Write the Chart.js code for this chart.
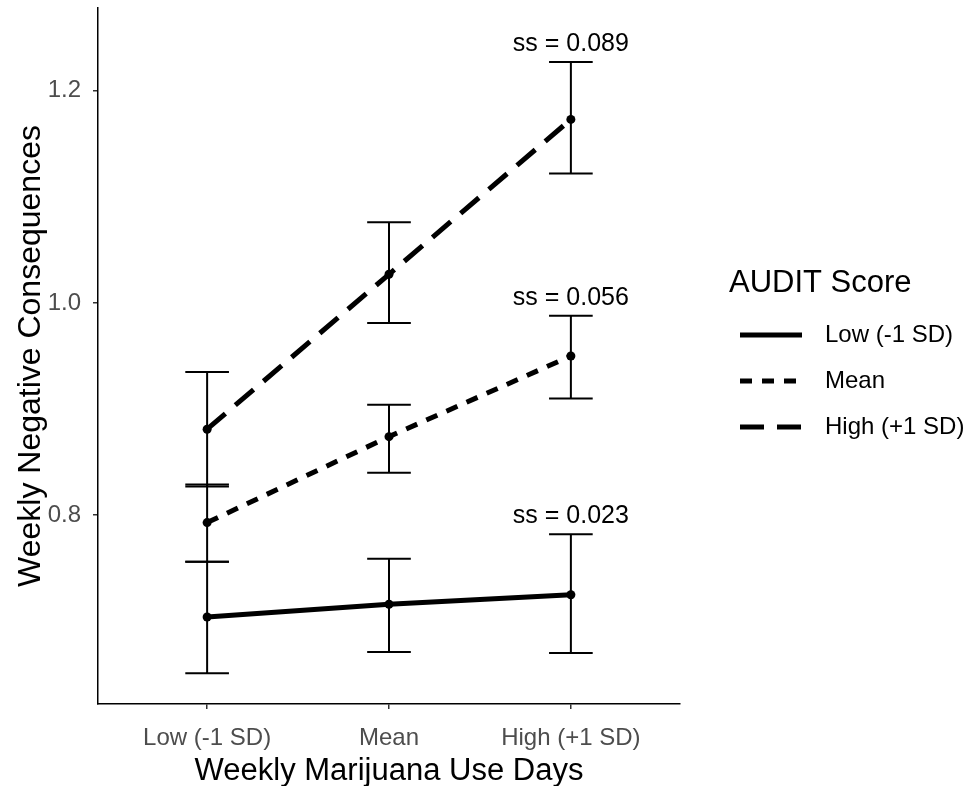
<!DOCTYPE html>
<html>
<head>
<meta charset="utf-8">
<script src="https://cdn.jsdelivr.net/npm/chart.js@4.4.1/dist/chart.umd.min.js"></script>
<style>
  html, body { margin: 0; padding: 0; background: #fff; }
  #wrap { width: 975px; height: 786px; }
</style>
</head>
<body>
<div id="wrap"><canvas id="myChart" width="975" height="786"></canvas></div>
<script>
// data
const categories = ['Low (-1 SD)', 'Mean', 'High (+1 SD)'];
const seriesNames = ['Low (-1 SD)', 'Mean', 'High (+1 SD)'];

const lowMeans = [0.704, 0.716, 0.725];
const lowUpper = [0.756, 0.759, 0.782];
const lowLower = [0.651, 0.671, 0.670];

const meanMeans = [0.793, 0.874, 0.950];
const meanUpper = [0.829, 0.904, 0.988];
const meanLower = [0.756, 0.840, 0.910];

const highMeans = [0.881, 1.027, 1.173];
const highUpper = [0.935, 1.076, 1.227];
const highLower = [0.827, 0.981, 1.122];

const yTicks = [0.8, 1.0, 1.2];
const ssLabels = ['ss = 0.023', 'ss = 0.056', 'ss = 0.089'];

const FONT = "'Liberation Sans', Arial, sans-serif";

function makeSet(label, means, upper, lower, dash) {
  return {
    label: label,
    data: means.map((v, i) => ({ x: i + 1, y: v })),
    upper: upper,
    lower: lower,
    borderColor: '#000',
    backgroundColor: '#000',
    borderWidth: 5,
    borderDash: dash,
    borderCapStyle: 'butt',
    pointRadius: 4.5,
    pointHoverRadius: 4.5,
    pointBackgroundColor: '#000',
    pointBorderWidth: 0,
    tension: 0,
    fill: false
  };
}

// error bars, drawn under the lines
const errorBars = {
  id: 'errorBars',
  beforeDatasetsDraw(chart) {
    const ctx = chart.ctx;
    const xs = chart.scales.x, ys = chart.scales.y;
    ctx.save();
    ctx.strokeStyle = '#000';
    ctx.lineWidth = 2;
    ctx.setLineDash([]);
    chart.data.datasets.forEach(ds => {
      ds.data.forEach((p, i) => {
        const x = xs.getPixelForValue(p.x);
        const x0 = xs.getPixelForValue(p.x - 0.12);
        const x1 = xs.getPixelForValue(p.x + 0.12);
        const yt = ys.getPixelForValue(ds.upper[i]);
        const yb = ys.getPixelForValue(ds.lower[i]);
        ctx.beginPath();
        ctx.moveTo(x, yt); ctx.lineTo(x, yb);
        ctx.moveTo(x0, yt); ctx.lineTo(x1, yt);
        ctx.moveTo(x0, yb); ctx.lineTo(x1, yb);
        ctx.stroke();
      });
    });
    ctx.restore();
  }
};

// "ss = ..." labels above the last error bar of each series
const ssText = {
  id: 'ssText',
  afterDatasetsDraw(chart) {
    const ctx = chart.ctx;
    const xs = chart.scales.x, ys = chart.scales.y;
    ctx.save();
    ctx.fillStyle = '#000';
    ctx.font = '25px ' + FONT;
    ctx.textAlign = 'center';
    ctx.textBaseline = 'middle';
    chart.data.datasets.forEach((ds, k) => {
      const last = ds.data.length - 1;
      const x = xs.getPixelForValue(ds.data[last].x);
      const y = ys.getPixelForValue(ds.upper[last]) - 18;
      ctx.fillText(ssLabels[k], x, y);
    });
    ctx.restore();
  }
};

// legend on the right, ggplot style
const sideLegend = {
  id: 'sideLegend',
  afterDraw(chart) {
    const ctx = chart.ctx;
    ctx.save();
    ctx.fillStyle = '#000';
    ctx.textBaseline = 'middle';
    ctx.textAlign = 'left';
    ctx.font = '31px ' + FONT;
    ctx.fillText('AUDIT Score', 729, 283);
    ctx.font = '24px ' + FONT;
    chart.data.datasets.forEach((ds, k) => {
      const y = 335 + k * 46;
      ctx.strokeStyle = '#000';
      ctx.lineWidth = 5;
      ctx.lineCap = 'butt';
      ctx.setLineDash(ds.borderDash || []);
      ctx.beginPath();
      ctx.moveTo(740, y);
      ctx.lineTo(802, y);
      ctx.stroke();
      ctx.setLineDash([]);
      ctx.fillText(ds.label, 825, y);
    });
    ctx.restore();
  }
};

const ctx = document.getElementById('myChart').getContext('2d');
const myChart = new Chart(ctx, {
  type: 'line',
  data: {
    datasets: [
      makeSet(seriesNames[0], lowMeans, lowUpper, lowLower, []),
      makeSet(seriesNames[1], meanMeans, meanUpper, meanLower, [12, 10]),
      makeSet(seriesNames[2], highMeans, highUpper, highLower, [24, 13])
    ]
  },
  options: {
    responsive: false,
    animation: false,
    layout: { padding: { top: 8, right: 295, bottom: 0, left: 0 } },
    plugins: {
      legend: { display: false },
      tooltip: { enabled: false }
    },
    scales: {
      x: {
        type: 'linear',
        min: 0.4,
        max: 3.6,
        afterBuildTicks: s => { s.ticks = categories.map((c, i) => ({ value: i + 1 })); },
        afterFit: s => { s.height = 82; s.paddingLeft = 0; s.paddingRight = 0; },
        ticks: {
          callback: v => categories[v - 1],
          color: '#4d4d4d',
          font: { family: FONT, size: 24 },
          padding: 15,
          maxRotation: 0
        },
        grid: { display: true, drawOnChartArea: false, drawTicks: true, tickLength: 5, color: '#333', lineWidth: 1.5 },
        border: { display: true, color: '#000', width: 1.5 },
        title: {
          display: true,
          text: 'Weekly Marijuana Use Days',
          color: '#000',
          font: { family: FONT, size: 31, lineHeight: 0.92 },
          padding: { top: 0, bottom: 0 }
        }
      },
      y: {
        min: 0.622,
        max: 1.278,
        afterBuildTicks: s => { s.ticks = yTicks.map(v => ({ value: v })); },
        afterFit: s => { s.width = 98; s.paddingTop = 0; s.paddingBottom = 0; },
        ticks: {
          callback: v => v.toFixed(1),
          color: '#4d4d4d',
          font: { family: FONT, size: 24 },
          padding: 12
        },
        grid: { display: true, drawOnChartArea: false, drawTicks: true, tickLength: 5, color: '#333', lineWidth: 1.5 },
        border: { display: true, color: '#000', width: 1.5 },
        title: {
          display: true,
          text: 'Weekly Negative Consequences',
          color: '#000',
          font: { family: FONT, size: 32, lineHeight: 1.0 },
          padding: { top: 15, bottom: 0 }
        }
      }
    }
  },
  plugins: [errorBars, ssText, sideLegend]
});
</script>
</body>
</html>
